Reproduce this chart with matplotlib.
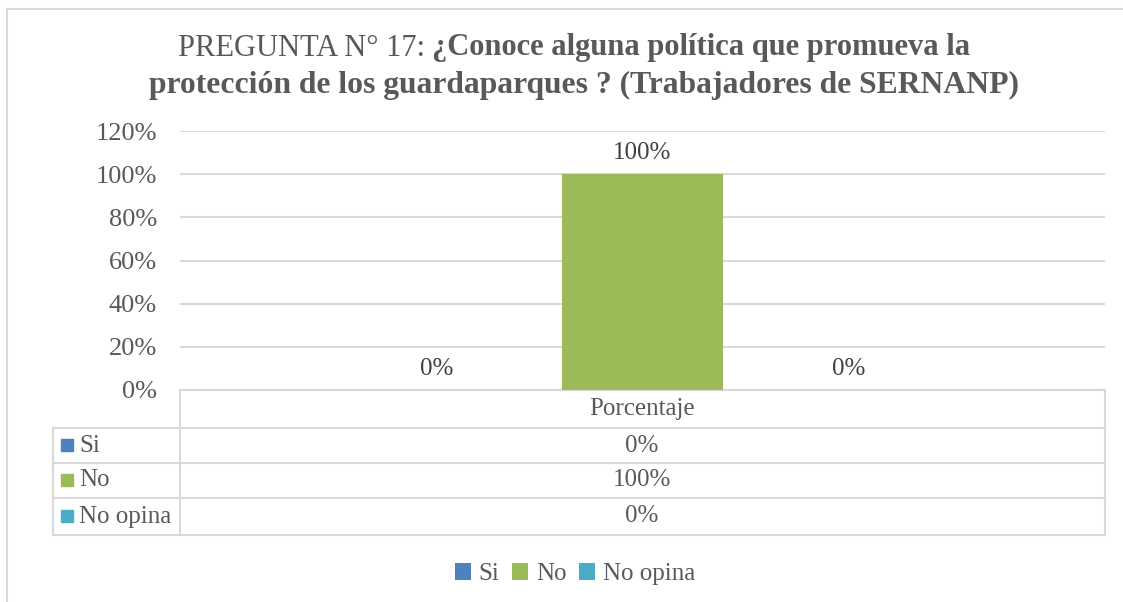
import matplotlib
matplotlib.use("Agg")
import matplotlib.pyplot as plt
from matplotlib.patches import Rectangle

# data
categories = ["Si", "No", "No opina"]
values = [0.0, 1.0, 0.0]
colors = ["#4F81BD", "#9BBB59", "#4BACC6"]
yticks = [0, 0.2, 0.4, 0.6, 0.8, 1.0, 1.2]
group_label = "Porcentaje"
title_plain = "PREGUNTA N° 17: "
title_bold1 = "¿Conoce alguna política que promueva la"
title_bold2 = "protección de los guardaparques ? (Trabajadores de SERNANP)"

TXT = "#595959"
GRID = "#D9D9D9"
FONT = "Liberation Serif"
FS = 18
plt.rcParams["font.family"] = [FONT, "DejaVu Serif"]

W, H = 1123, 602
fig = plt.figure(figsize=(W / 100, H / 100), dpi=100)


def fx(px):
    return px / W


def fy(py):
    return 1 - py / H


# overlay in pixel coordinates for the frame and data table
over = fig.add_axes([0, 0, 1, 1])
over.set_xlim(0, W)
over.set_ylim(H, 0)
over.axis("off")

# main plot area
ax = fig.add_axes([fx(180), fy(390), fx(1105) - fx(180), fy(131) - fy(390)])
xs = [i - 1 for i in range(len(categories))]
bars = []
for x, v, c, cat in zip(xs, values, colors, categories):
    b = ax.bar(x, v, width=0.78, color=c, label=cat, zorder=2)
    bars.append(b)
    ax.annotate(f"{v:.0%}", (x, v), xytext=(0, 7), textcoords="offset points",
                ha="center", va="bottom", fontsize=FS, color="#404040")
ax.set_xlim(-2.245, 2.245)
ax.set_ylim(0, 1.2)
ax.set_yticks(yticks)
ax.set_yticklabels([f"{t:.0%}" for t in yticks], fontsize=FS + 1, color=TXT)
ax.tick_params(axis="y", length=0, pad=16.5)
ax.set_xticks([])
ax.grid(axis="y", color=GRID, lw=1.5, zorder=0)
for s in ax.spines.values():
    s.set_visible(False)
ax.patch.set_alpha(0)

# chart frame
over.plot([7, W], [9, 9], color=GRID, lw=1.5)
over.plot([7, 7], [9, H], color=GRID, lw=1.5)

# data table
rows_y = [390, 428, 463, 498, 535]
over.plot([180, 1105], [390, 390], color=GRID, lw=1.5)
for y in rows_y[1:]:
    over.plot([53, 1105], [y, y], color=GRID, lw=1.5)
over.plot([180, 180], [390, 535], color=GRID, lw=1.5)
over.plot([53, 53], [428, 535], color=GRID, lw=1.5)
over.plot([1105, 1105], [390, 535], color=GRID, lw=1.5)
over.text(642, 409, group_label, ha="center", va="center", fontsize=FS, color=TXT)
for i, (cat, v, c) in enumerate(zip(categories, values, colors)):
    yc = (rows_y[i + 1] + rows_y[i + 2]) / 2
    over.add_patch(Rectangle((61, yc - 7), 12, 12, color=c))
    over.text(79, yc, cat, ha="left", va="center", fontsize=FS, color=TXT)
    over.text(642, yc, f"{v:.0%}", ha="center", va="center", fontsize=FS, color=TXT)

# legend
fig.legend(handles=bars, labels=categories, loc="center", ncol=3,
           bbox_to_anchor=(fx(575), fy(574)), frameon=False, fontsize=FS,
           handlelength=0.65, handleheight=0.65, handletextpad=0.3,
           columnspacing=0.5, labelcolor=TXT)

# title: plain + bold runs
fig.canvas.draw()
rend = fig.canvas.get_renderer()
t1 = fig.text(0, fy(48), title_plain, fontsize=22, color=TXT, va="center")
t2 = fig.text(0, fy(48), title_bold1, fontsize=22, color=TXT, va="center",
              fontweight="bold")
w1 = t1.get_window_extent(rend).width
w2 = t2.get_window_extent(rend).width
start = 574 - (w1 + w2) / 2
t1.set_x(fx(start))
t2.set_x(fx(start + w1))
fig.text(fx(584), fy(85), title_bold2, fontsize=22.8, color=TXT, va="center",
         ha="center", fontweight="bold")

fig.savefig("out.png", dpi=100)
